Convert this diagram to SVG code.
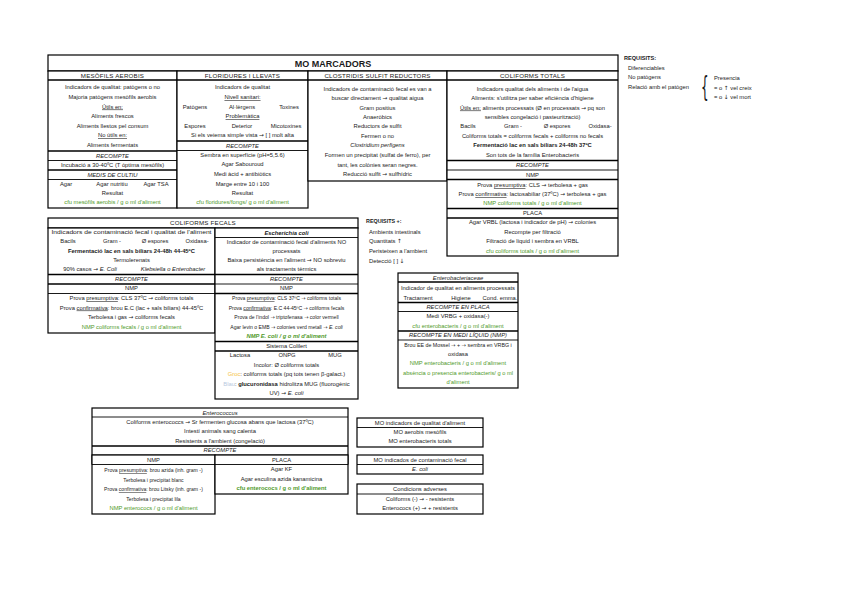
<svg xmlns="http://www.w3.org/2000/svg" width="848" height="599" viewBox="0 0 848 599">
<style>
text{font-family:"Liberation Sans",Arial,sans-serif;font-size:5.8px;fill:#1a1a1a;text-anchor:middle}
.l{text-anchor:start}
.i{font-style:italic}
.b{font-weight:bold}
.g{fill:#4f9a2a}
.s{font-size:5.1px}
.h{font-size:6.2px;letter-spacing:0.2px}
.u{text-decoration:underline}
.a{font-family:"DejaVu Sans",sans-serif;font-style:normal;font-weight:normal}
.box{fill:#fff;stroke:#000;stroke-width:1.2}
.ln{stroke:#000;stroke-width:0.9;fill:none}
.tk{stroke:#000;stroke-width:1.5;fill:none}
</style>
<rect width="848" height="599" fill="#fff"/>

<g id="title">
<rect class="box" x="48" y="55" width="570" height="16" stroke-width="1.5"/>
<text x="333" y="66.5" class="b" style="font-size:9px">MO MARCADORS</text>
</g>

<g id="mesofils">
<rect class="box" x="48" y="71" width="129" height="137"/>
<line class="tk" x1="48" y1="80" x2="177" y2="80"/>
<text x="112.5" y="78" class="h">MESÒFILS AEROBIS</text>
<text x="112.5" y="89">Indicadors de qualitat: patògens o no</text>
<text x="112.5" y="99">Majoria patògens mesòfils aerobis</text>
<text x="112.5" y="108.5" class="u">Útils en:</text>
<text x="112.5" y="118">Aliments frescos</text>
<text x="112.5" y="127.5">Aliments llestos pel consum</text>
<text x="112.5" y="137" class="u">No útils en:</text>
<text x="112.5" y="146.5">Aliments fermentats</text>
<line class="tk" x1="48" y1="151" x2="177" y2="151"/>
<text x="112.5" y="157.5" class="i">RECOMPTE</text>
<line class="ln" x1="48" y1="160.5" x2="177" y2="160.5"/>
<text x="112.5" y="167">Incubació a 30-40ºC (T òptima mesòfils)</text>
<line class="tk" x1="48" y1="170" x2="177" y2="170"/>
<text x="112.5" y="176.5" class="i">MEDIS DE CULTIU</text>
<line class="ln" x1="48" y1="179.5" x2="177" y2="179.5"/>
<text x="66" y="186">Agar</text>
<text x="112" y="186">Agar nutritiu</text>
<text x="156" y="186">Agar TSA</text>
<text x="112.5" y="195">Resultat</text>
<text x="112.5" y="204" class="g">cfu mesòfils aerobis / g o ml d'aliment</text>
</g>

<g id="floridures">
<rect class="box" x="177" y="71" width="131" height="137"/>
<line class="tk" x1="177" y1="80" x2="308" y2="80"/>
<text x="242.5" y="78" class="h">FLORIDURES I LLEVATS</text>
<text x="242.5" y="89">Indicadors de qualitat</text>
<text x="242.5" y="99" class="u">Nivell sanitari:</text>
<text x="195" y="108.5">Patògens</text>
<text x="242" y="108.5">Al·lèrgens</text>
<text x="289" y="108.5">Toxines</text>
<text x="242.5" y="118" class="u">Problemàtica</text>
<text x="195" y="127.5">Espores</text>
<text x="242" y="127.5">Deterior</text>
<text x="286" y="127.5">Micotoxines</text>
<text x="242.5" y="137">Si els veiema simple vista <tspan class="a">→</tspan> [ ] molt alta</text>
<line class="tk" x1="177" y1="141" x2="308" y2="141"/>
<text x="242.5" y="147.5" class="i">RECOMPTE</text>
<line class="ln" x1="177" y1="150.5" x2="308" y2="150.5"/>
<text x="242.5" y="157">Sembra en superfície (pH=5,5.6)</text>
<text x="242.5" y="166">Agar Sabouroud</text>
<text x="242.5" y="175.5">Medi àcid + antibiòtics</text>
<text x="242.5" y="185.5">Marge entre 10 i 100</text>
<text x="242.5" y="195">Resultat</text>
<text x="242.5" y="204" class="g">cfu floridures/fongs/ g o ml d'aliment</text>
</g>

<g id="clostridis">
<rect class="box" x="308" y="71" width="139" height="110"/>
<line class="tk" x1="308" y1="80" x2="447" y2="80"/>
<text x="377.5" y="78" class="h">CLOSTRIDIS SULFIT REDUCTORS</text>
<text x="377.5" y="90.5">Indicadors de contaminació fecal es van a</text>
<text x="377.5" y="100">buscar directament <tspan class="a">→</tspan> qualitat aigua</text>
<text x="377.5" y="109.5">Gram positius</text>
<text x="377.5" y="118.5">Anaeròbics</text>
<text x="377.5" y="128">Reductors de sulfit</text>
<text x="377.5" y="137.5">Fermen o no</text>
<text x="377.5" y="147" class="i">Clostridium perfigens</text>
<text x="377.5" y="157">Formen un precipitat (sulfat de ferro), per</text>
<text x="377.5" y="166.5">tant, les colònies seran negres.</text>
<text x="377.5" y="176">Reducció sulfit <tspan class="a">→</tspan> sulfhídric</text>
</g>

<g id="coliforms-totals">
<rect class="box" x="447" y="71" width="171" height="185"/>
<line class="tk" x1="447" y1="80" x2="618" y2="80"/>
<text x="532.5" y="78" class="h">COLIFORMS TOTALS</text>
<text x="532.5" y="90.5">Indicadors qualitat dels aliments i de l'aigua</text>
<text x="532.5" y="100">Aliments: s'utilitza per saber eficiència d'higiene</text>
<text x="532.5" y="109.5"><tspan class="u">Útils en:</tspan> aliments processats (Ø en processats <tspan class="a">→</tspan> pq son</text>
<text x="532.5" y="118.5">sensibles congelació i pasteurització)</text>
<text x="468" y="128">Bacils</text>
<text x="513" y="128">Gram -</text>
<text x="557" y="128">Ø espores</text>
<text x="600" y="128">Oxidasa-</text>
<text x="532.5" y="137.5">Coliforms totals = coliforms fecals + coliforms no fecals</text>
<text x="532.5" y="147" class="b">Fermentació lac en sals biliars 24-48h 37ºC</text>
<text x="532.5" y="156.5">Son tots de la família Enterobacteris</text>
<line class="tk" x1="447" y1="160.5" x2="618" y2="160.5"/>
<text x="532.5" y="167" class="i">RECOMPTE</text>
<line class="ln" x1="447" y1="170" x2="618" y2="170"/>
<text x="532.5" y="176.5">NMP</text>
<line class="tk" x1="447" y1="179.5" x2="618" y2="179.5"/>
<text x="532.5" y="187">Prova <tspan class="u">presumptiva</tspan>: CLS <tspan class="a">→</tspan> terbolesa + gas</text>
<text x="532.5" y="196">Prova <tspan class="u">confirmativa</tspan>: lactosabiliar (37ºC) <tspan class="a">→</tspan> terbolesa + gas</text>
<text x="532.5" y="205" class="g">NMP coliforms totals / g o ml d'aliment</text>
<line class="tk" x1="447" y1="208.5" x2="618" y2="208.5"/>
<text x="532.5" y="215">PLACA</text>
<line class="tk" x1="447" y1="218" x2="618" y2="218"/>
<text x="532.5" y="224">Agar VRBL (lactosa i indicador de pH) <tspan class="a">→</tspan> colonies</text>
<text x="532.5" y="233.5">Recompte per filtració</text>
<text x="532.5" y="243">Filtració de líquid i sembra en VRBL</text>
<text x="532.5" y="252.5" class="g">cfu coliforms totals / g o ml d'aliment</text>
</g>

<g id="requisits">
<text x="624" y="60" class="l b" style="font-size:5.6px">REQUISITS:</text>
<text x="628" y="69.5" class="l">Diferenciables</text>
<text x="628" y="79" class="l">No patògens</text>
<text x="628" y="89" class="l">Relació amb el patògen</text>
<text class="l" transform="translate(701,97) scale(1,2.3)" style="font-size:12px;font-family:'DejaVu Sans',sans-serif">{</text>
<text x="714" y="79.5" class="l">Presencia</text>
<text x="714" y="89.5" class="l">= o <tspan class="a">↑</tspan> vel creix</text>
<text x="714" y="99" class="l">= o <tspan class="a">↓</tspan> vel mort</text>
</g>

<g id="coliforms-fecals">
<rect class="box" x="48" y="218" width="310" height="10"/>
<text x="203" y="225.2" class="h">COLIFORMS FECALS</text>
<rect class="box" x="48" y="228" width="167" height="105"/>
<text x="131.5" y="234" textLength="160" lengthAdjust="spacingAndGlyphs">Indicadors de contaminació fecal i qualitat de l'aliment</text>
<text x="68" y="243">Bacils</text>
<text x="112" y="243">Gram -</text>
<text x="155" y="243">Ø espores</text>
<text x="197" y="243">Oxidasa-</text>
<text x="131.5" y="252.5" class="b">Fermentació lac en sals biliars 24-48h 44-45ºC</text>
<text x="131.5" y="261.5">Termolerenats</text>
<text x="90" y="271">90% casos <tspan class="a">→</tspan> <tspan class="i">E. Coli</tspan></text>
<text x="173" y="271" class="i">Klebsiella o Enterobacter</text>
<line class="tk" x1="48" y1="274.5" x2="215" y2="274.5"/>
<text x="131.5" y="280.5" class="i">RECOMPTE</text>
<line class="tk" x1="48" y1="284" x2="215" y2="284"/>
<text x="131.5" y="290">NMP</text>
<line class="ln" x1="48" y1="293.5" x2="215" y2="293.5"/>
<text x="131.5" y="300">Prova <tspan class="u">presumptiva</tspan>: CLS 37ºC <tspan class="a">→</tspan> coliforms totals</text>
<text x="131.5" y="309.5">Prova <tspan class="u">confirmativa</tspan>: brou E.C (lac + sals biliars) 44-45ºC</text>
<text x="131.5" y="319">Terbolesa i gas <tspan class="a">→</tspan> coliforms fecals</text>
<text x="131.5" y="328.5" class="g">NMP coliforms fecals / g o ml d'aliment</text>
</g>

<g id="ecoli">
<rect class="box" x="215" y="228" width="143" height="171"/>
<text x="286.5" y="234.5" class="i b">Escherichia coli</text>
<line class="ln" x1="215" y1="237.5" x2="358" y2="237.5"/>
<text x="286.5" y="244">Indicador de contaminació fecal d'aliments NO</text>
<text x="286.5" y="252.5">processats</text>
<text x="286.5" y="262">Baixa persistència en l'aliment <tspan class="a">→</tspan> NO sobreviu</text>
<text x="286.5" y="271">als tractaments tèrmics</text>
<line class="tk" x1="215" y1="274.5" x2="358" y2="274.5"/>
<text x="286.5" y="280.5" class="i">RECOMPTE</text>
<line class="ln" x1="215" y1="284" x2="358" y2="284"/>
<text x="286.5" y="290">NMP</text>
<line class="tk" x1="215" y1="293.5" x2="358" y2="293.5"/>
<text x="286.5" y="300" class="s">Prova <tspan class="u">presumptiva</tspan>: CLS 37ºC <tspan class="a">→</tspan> coliforms totals</text>
<text x="286.5" y="309.5" class="s">Prova <tspan class="u">confirmativa</tspan>: E.C 44-45ºC <tspan class="a">→</tspan> coliforms fecals</text>
<text x="286.5" y="319" class="s">Prova de l'indol <tspan class="a">→</tspan> triptofenasa <tspan class="a">→</tspan> color vermell</text>
<text x="286.5" y="328.5" class="s">Agar levin o EMB <tspan class="a">→</tspan> colonies verd metall <tspan class="a">→</tspan> <tspan class="i">E. coli</tspan></text>
<text x="286.5" y="338" class="g i b">NMP E. coli / g o ml d'aliment</text>
<line class="tk" x1="215" y1="341.5" x2="358" y2="341.5"/>
<text x="286.5" y="347.5">Sistema Colilert</text>
<line class="tk" x1="215" y1="351" x2="358" y2="351"/>
<text x="240" y="357">Lactosa</text>
<text x="287" y="357">ONPG</text>
<text x="335" y="357">MUG</text>
<text x="286.5" y="366.5">Incolor: Ø coliforms totals</text>
<text x="286.5" y="376"><tspan fill="#f5c242">Groc</tspan>: coliforms totals (pq tots tenen β-galact.)</text>
<text x="286.5" y="385.5"><tspan fill="#b8c8e0">Blau</tspan>: <tspan class="b">glucuronidasa</tspan> hidrolitza MUG (fluorogènic</text>
<text x="286.5" y="395">UV) <tspan class="a">→</tspan> <tspan class="i">E. coli</tspan></text>
</g>

<g id="requisits-plus">
<text x="366" y="223" class="l b" style="font-size:5.4px">REQUISITS +:</text>
<text x="369" y="233.5" class="l">Ambients intestinals</text>
<text x="369" y="243" class="l">Quantitats <tspan class="a">↑</tspan></text>
<text x="369" y="252.5" class="l">Peristeixen a l'ambient</text>
<text x="369" y="262.5" class="l">Detecció [ ] <tspan class="a">↓</tspan></text>
</g>

<g id="enterobacteriaceae">
<rect class="box" x="398" y="273" width="120" height="115"/>
<text x="458" y="279.5" class="i">Enterobacteriaceae</text>
<line class="tk" x1="398" y1="282" x2="518" y2="282"/>
<text x="458" y="290" textLength="114" lengthAdjust="spacingAndGlyphs">Indicador de qualitat en aliments processats</text>
<text x="418" y="299.5">Tractament</text>
<text x="461" y="299.5">Higiene</text>
<text x="500" y="299.5">Cond. emma.</text>
<line class="tk" x1="398" y1="302.5" x2="518" y2="302.5"/>
<text x="458" y="308.5" class="i">RECOMPTE EN PLACA</text>
<line class="ln" x1="398" y1="311.5" x2="518" y2="311.5"/>
<text x="458" y="318">Medi VRBG + oxidasa(-)</text>
<text x="458" y="327.5" class="g">cfu enterobacteris / g o ml d'aliment</text>
<line class="tk" x1="398" y1="331" x2="518" y2="331"/>
<text x="458" y="337" class="i">RECOMPTE EN MEDI LÍQUID (NMP)</text>
<line class="ln" x1="398" y1="340" x2="518" y2="340"/>
<text x="458" y="346.5" style="font-size:5.3px">Brou EE de Mossel <tspan class="a">→</tspan> + <tspan class="a">→</tspan> sembra en VRBG i</text>
<text x="458" y="355.5">oxidasa</text>
<text x="458" y="365" class="g">NMP enterobacteris / g o ml d'aliment</text>
<text x="458" y="374.5" class="g" textLength="110" lengthAdjust="spacingAndGlyphs">absència o presencia enterobacteris/ g o ml</text>
<text x="458" y="383.5" class="g">d'aliment</text>
</g>

<g id="enterococcus">
<rect class="box" x="92" y="408" width="256" height="56"/>
<text x="220" y="414.5" class="i">Enterococcus</text>
<line class="ln" x1="92" y1="417" x2="348" y2="417"/>
<text x="220" y="423.5">Coliforms enterococcs <tspan class="a">→</tspan> Sr fermenten glucosa abans que lactosa (37ºC)</text>
<text x="220" y="433">Intestí animals sang calenta</text>
<text x="220" y="442.5">Resistents a l'ambient (congelació)</text>
<line class="tk" x1="92" y1="446" x2="348" y2="446"/>
<text x="220" y="452" class="i">RECOMPTE</text>
<line class="ln" x1="92" y1="455" x2="348" y2="455"/>
<rect class="box" x="92" y="455" width="123" height="59"/>
<rect class="box" x="215" y="455" width="133" height="39"/>
<text x="153.5" y="461.5">NMP</text>
<text x="281.5" y="461.5">PLACA</text>
<line class="ln" x1="92" y1="464.5" x2="348" y2="464.5"/>
<text x="153.5" y="472" class="s">Prova <tspan class="u">presumptiva</tspan>: brou azida (inh. gram -)</text>
<text x="153.5" y="481.5" class="s">Terbolesa i precipitat blanc</text>
<text x="153.5" y="491" class="s">Prova <tspan class="u">confirmativa</tspan>: brou Litsky (inh. gram -)</text>
<text x="153.5" y="500.5" class="s">Terbolesa i precipitat lila</text>
<text x="153.5" y="510" class="g">NMP enterococs / g o ml d'aliment</text>
<text x="281.5" y="471">Agar KF</text>
<text x="281.5" y="480.5">Agar esculina azida kanamicina</text>
<text x="281.5" y="490" class="g b">cfu enterococs / g o ml d'aliment</text>
</g>

<g id="mo-qualitat">
<rect class="box" x="357" y="418" width="126" height="29"/>
<text x="420" y="425">MO indicadors de qualitat d'aliment</text>
<line class="ln" x1="357" y1="427.5" x2="483" y2="427.5"/>
<text x="420" y="434">MO aerobis mesòfils</text>
<text x="420" y="443">MO enterobacteris totals</text>
</g>

<g id="mo-fecal">
<rect class="box" x="357" y="455" width="126" height="19"/>
<text x="420" y="461.5">MO indicados de contaminació fecal</text>
<line class="ln" x1="357" y1="464.5" x2="483" y2="464.5"/>
<text x="420" y="471" class="i">E. coli</text>
</g>

<g id="condicions">
<rect class="box" x="357" y="484" width="126" height="30"/>
<text x="420" y="491">Condicions adverses</text>
<line class="ln" x1="357" y1="494" x2="483" y2="494"/>
<text x="420" y="500.5">Coliforms (-) <tspan class="a">→</tspan> - resistents</text>
<text x="420" y="510">Enterococs (+) <tspan class="a">→</tspan> + resistents</text>
</g>

<g id="connectors"></g>
</svg>
